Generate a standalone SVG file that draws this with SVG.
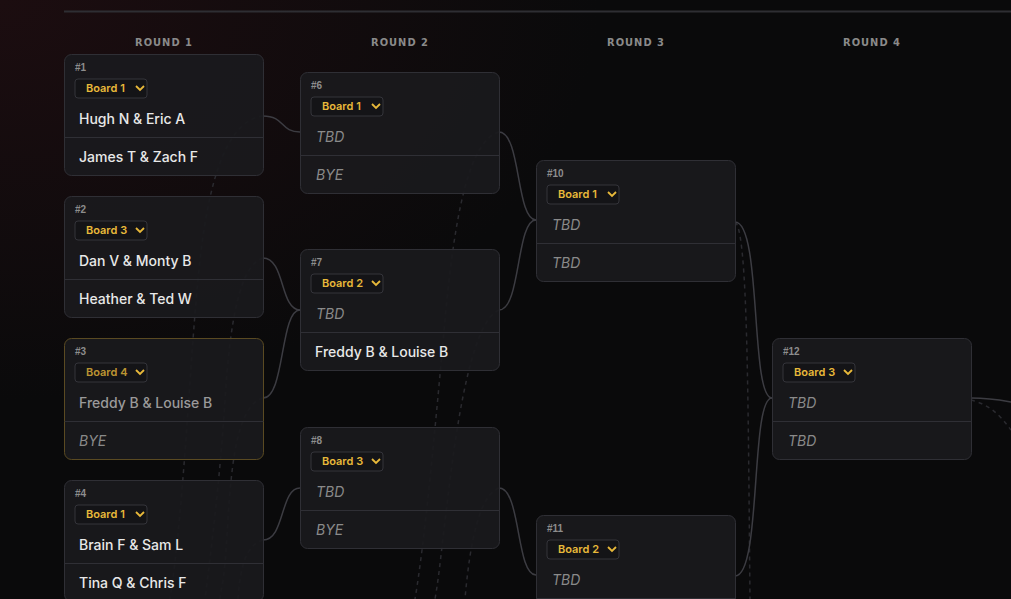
<svg xmlns="http://www.w3.org/2000/svg" width="1011" height="599" viewBox="0 0 1011 599">
<defs>
<radialGradient id="bg" cx="0" cy="0" r="1" gradientUnits="userSpaceOnUse" gradientTransform="translate(0 0) scale(600 400)">
<stop offset="0" stop-color="#1c0d10"/><stop offset="1" stop-color="#0a0a0b"/>
</radialGradient>
<g id="sel"><rect x="0" y="0" width="72" height="19" rx="3" fill="#141417" stroke="#34343a"/><path d="M61 7 l4 4 l4 -4" fill="none" stroke="#e8b93a" stroke-width="1.8"/></g>
</defs>
<style>
.card{fill:#1a1a1d;fill-opacity:0.93;stroke:#2f2f35;stroke-width:1}
.gold{stroke:#5a4a22}
.div{stroke:#2f2f35;stroke-width:1}
.num{font-family:"Liberation Sans",sans-serif;font-size:10px;fill:#8d8d8d;font-weight:bold}
.bd{font-family:Inter,"Liberation Sans",sans-serif;font-size:11px;font-weight:600;fill:#e8b93a}
.nm{font-family:Inter,"Liberation Sans",sans-serif;font-size:14px;font-weight:500;fill:#e8e8e8}
.dim{fill:#9a9a9a}
.tbd{font-family:Inter,"Liberation Sans",sans-serif;font-size:14px;font-style:italic;fill:#8a8a8a}
.rd{font-family:"DejaVu Sans Condensed","DejaVu Sans",sans-serif;font-stretch:condensed;font-size:11px;font-weight:bold;fill:#8a8a8a;letter-spacing:1px;text-anchor:middle}
.c{fill:none;stroke:#3c3c42;stroke-width:1.5}
.d{fill:none;stroke:#2a2a2f;stroke-width:1.5;stroke-dasharray:4 4}
</style>
<rect width="1011" height="599" fill="url(#bg)"/>
<line x1="64" y1="11.5" x2="1011" y2="11.5" stroke="#2e2e33" stroke-width="2"/>
<g id="rounds">
<text class="rd" x="164" y="46">ROUND 1</text><text class="rd" x="400" y="46">ROUND 2</text>
<text class="rd" x="636" y="46">ROUND 3</text><text class="rd" x="872" y="46">ROUND 4</text>
</g>
<g id="dashed">
<path class="d" d="M263 116 C230 120 210 170 200 260 S185 500 170 599"/>
<path class="d" d="M263 258 C240 265 230 320 225 400 S210 560 205 599"/>
<path class="d" d="M263 398 C240 405 232 450 228 520 S222 580 220 599"/>
<path class="d" d="M263 540 C245 545 240 570 238 599"/>
<path class="d" d="M499 132 C470 140 455 210 445 320 S425 540 415 599"/>
<path class="d" d="M499 310 C475 320 460 400 450 480 S440 570 435 599"/>
<path class="d" d="M499 488 C480 495 470 540 465 599"/>
<path class="d" d="M735 222 C748 230 748 400 750 599"/>
<path class="d" d="M971 400 C990 405 1000 415 1011 430"/>
</g>
<g id="connectors">
<path class="c" d="M263 116 C285 116 280 132 300 132"/>
<path class="c" d="M263 258 C285 258 280 310 300 310"/>
<path class="c" d="M263 398 C285 398 280 310 300 310"/>
<path class="c" d="M263 540 C285 540 280 488 300 488"/>
<path class="c" d="M499 132 C521 132 516 220 536 220"/>
<path class="c" d="M499 310 C521 310 516 220 536 220"/>
<path class="c" d="M499 488 C521 488 516 575 536 575"/>
<path class="c" d="M735 222 C762 222 750 398 772 398"/>
<path class="c" d="M735 576 C762 576 750 398 772 398"/>
<path class="c" d="M971 398 C990 398 1000 400 1011 402"/>
</g>
<g id="m1" transform="translate(64 54)"><rect class="card" x="0.5" y="0.5" width="199" height="121" rx="7"/><text class="num" x="11" y="17">#1</text><use href="#sel" x="11" y="25"/><text class="bd" x="22" y="38">Board 1</text><text class="nm" x="15" y="70">Hugh N &amp; Eric A</text><line class="div" x1="0.5" y1="83.5" x2="199.5" y2="83.5"/><text class="nm" x="15" y="108">James T &amp; Zach F</text></g>
<g id="m2" transform="translate(64 196)"><rect class="card" x="0.5" y="0.5" width="199" height="121" rx="7"/><text class="num" x="11" y="17">#2</text><use href="#sel" x="11" y="25"/><text class="bd" x="22" y="38">Board 3</text><text class="nm" x="15" y="70">Dan V &amp; Monty B</text><line class="div" x1="0.5" y1="83.5" x2="199.5" y2="83.5"/><text class="nm" x="15" y="108">Heather &amp; Ted W</text></g>
<g id="m3" transform="translate(64 338)"><rect class="card gold" x="0.5" y="0.5" width="199" height="121" rx="7"/><text class="num" x="11" y="17">#3</text><use href="#sel" x="11" y="25"/><text class="bd" x="22" y="38" fill-opacity="0.8">Board 4</text><text class="nm dim" x="15" y="70">Freddy B &amp; Louise B</text><line class="div" x1="0.5" y1="83.5" x2="199.5" y2="83.5"/><text class="tbd" x="15" y="108" fill="#666">BYE</text></g>
<g id="m4" transform="translate(64 480)"><rect class="card" x="0.5" y="0.5" width="199" height="121" rx="7"/><text class="num" x="11" y="17">#4</text><use href="#sel" x="11" y="25"/><text class="bd" x="22" y="38">Board 1</text><text class="nm" x="15" y="70">Brain F &amp; Sam L</text><line class="div" x1="0.5" y1="83.5" x2="199.5" y2="83.5"/><text class="nm" x="15" y="108">Tina Q &amp; Chris F</text></g>
<g id="m6" transform="translate(300 72)"><rect class="card" x="0.5" y="0.5" width="199" height="121" rx="7"/><text class="num" x="11" y="17">#6</text><use href="#sel" x="11" y="25"/><text class="bd" x="22" y="38">Board 1</text><text class="tbd" x="16" y="70">TBD</text><line class="div" x1="0.5" y1="83.5" x2="199.5" y2="83.5"/><text class="tbd" x="16" y="108">BYE</text></g>
<g id="m7" transform="translate(300 249)"><rect class="card" x="0.5" y="0.5" width="199" height="121" rx="7"/><text class="num" x="11" y="17">#7</text><use href="#sel" x="11" y="25"/><text class="bd" x="22" y="38">Board 2</text><text class="tbd" x="16" y="70">TBD</text><line class="div" x1="0.5" y1="83.5" x2="199.5" y2="83.5"/><text class="nm" x="15" y="108">Freddy B &amp; Louise B</text></g>
<g id="m8" transform="translate(300 427)"><rect class="card" x="0.5" y="0.5" width="199" height="121" rx="7"/><text class="num" x="11" y="17">#8</text><use href="#sel" x="11" y="25"/><text class="bd" x="22" y="38">Board 3</text><text class="tbd" x="16" y="70">TBD</text><line class="div" x1="0.5" y1="83.5" x2="199.5" y2="83.5"/><text class="tbd" x="16" y="108">BYE</text></g>
<g id="m10" transform="translate(536 160)"><rect class="card" x="0.5" y="0.5" width="199" height="121" rx="7"/><text class="num" x="11" y="17">#10</text><use href="#sel" x="11" y="25"/><text class="bd" x="22" y="38">Board 1</text><text class="tbd" x="16" y="70">TBD</text><line class="div" x1="0.5" y1="83.5" x2="199.5" y2="83.5"/><text class="tbd" x="16" y="108">TBD</text></g>
<g id="m11" transform="translate(536 515)"><rect class="card" x="0.5" y="0.5" width="199" height="121" rx="7"/><text class="num" x="11" y="17">#11</text><use href="#sel" x="11" y="25"/><text class="bd" x="22" y="38">Board 2</text><text class="tbd" x="16" y="70">TBD</text><line class="div" x1="0.5" y1="83.5" x2="199.5" y2="83.5"/></g>
<g id="m12" transform="translate(772 338)"><rect class="card" x="0.5" y="0.5" width="199" height="121" rx="7"/><text class="num" x="11" y="17">#12</text><use href="#sel" x="11" y="25"/><text class="bd" x="22" y="38">Board 3</text><text class="tbd" x="16" y="70">TBD</text><line class="div" x1="0.5" y1="83.5" x2="199.5" y2="83.5"/><text class="tbd" x="16" y="108">TBD</text></g>
</svg>
